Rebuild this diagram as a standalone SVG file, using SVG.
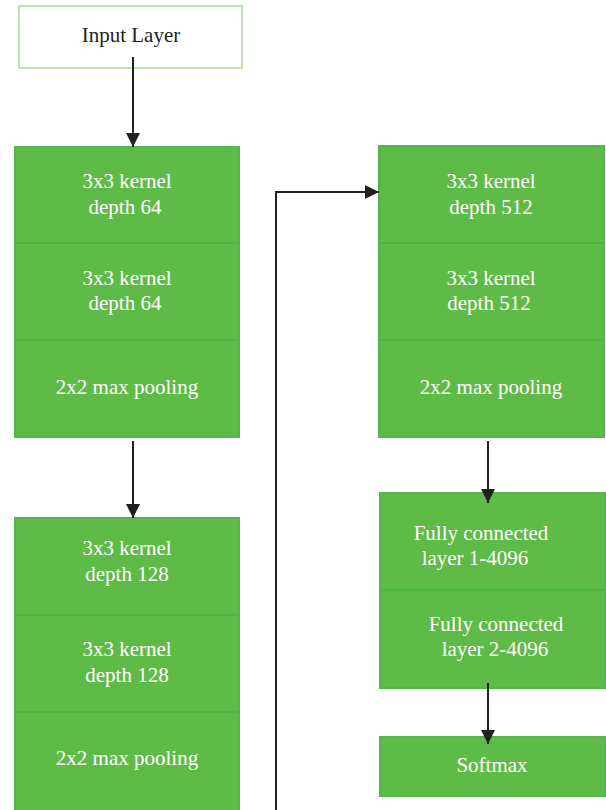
<svg xmlns="http://www.w3.org/2000/svg" width="606" height="810" viewBox="0 0 606 810">
<style>
.box{fill:#5fbb48;stroke:#52b74a;stroke-width:2}
.div{stroke:#4cb548;stroke-width:2}
.in{fill:#fff;stroke:#a6d996;stroke-width:1.5}
text{font-family:"Liberation Serif","Times New Roman",serif;font-size:21px;text-anchor:middle}
.w{fill:#fff}
.k{fill:#231f20}
.c{stroke:#231f20;stroke-width:2;fill:none}
</style>
<defs>
<marker id="a" viewBox="0 0 14 14" refX="14" refY="7" markerWidth="14" markerHeight="14" orient="auto" markerUnits="userSpaceOnUse">
<path d="M0,0 L14,7 L0,14 z" fill="#231f20"/>
</marker>
</defs>
<g id="input">
<rect class="in" x="19" y="6" width="223" height="62"/>
<text class="k" x="131" y="42">Input Layer</text>
</g>
<g id="block1">
<rect class="box" x="15" y="147" width="224" height="290"/>
<line class="div" x1="15" y1="243" x2="239" y2="243"/>
<line class="div" x1="15" y1="340" x2="239" y2="340"/>
<text class="w" x="127" y="188">3x3 kernel</text>
<text class="w" x="125" y="214">depth 64</text>
<text class="w" x="127" y="285">3x3 kernel</text>
<text class="w" x="125" y="310">depth 64</text>
<text class="w" x="127" y="394">2x2 max pooling</text>
</g>
<g id="block2">
<rect class="box" x="15" y="518" width="224" height="300"/>
<line class="div" x1="15" y1="615" x2="239" y2="615"/>
<line class="div" x1="15" y1="712" x2="239" y2="712"/>
<text class="w" x="127" y="555">3x3 kernel</text>
<text class="w" x="127" y="581">depth 128</text>
<text class="w" x="127" y="656">3x3 kernel</text>
<text class="w" x="127" y="682">depth 128</text>
<text class="w" x="127" y="765">2x2 max pooling</text>
</g>
<g id="block5">
<rect class="box" x="379" y="146" width="225" height="291"/>
<line class="div" x1="379" y1="243" x2="604" y2="243"/>
<line class="div" x1="379" y1="340" x2="604" y2="340"/>
<text class="w" x="491" y="188">3x3 kernel</text>
<text class="w" x="491" y="214">depth 512</text>
<text class="w" x="491" y="285">3x3 kernel</text>
<text class="w" x="489" y="310">depth 512</text>
<text class="w" x="491" y="394">2x2 max pooling</text>
</g>
<g id="fc">
<rect class="box" x="380" y="493" width="225" height="195"/>
<line class="div" x1="380" y1="590" x2="605" y2="590"/>
<text class="w" x="481" y="540">Fully connected</text>
<text class="w" x="475" y="565">layer 1-4096</text>
<text class="w" x="496" y="631">Fully connected</text>
<text class="w" x="495" y="656">layer 2-4096</text>
</g>
<g id="softmax">
<rect class="box" x="380" y="737" width="225" height="59"/>
<text class="w" x="492" y="772">Softmax</text>
</g>
<g id="connectors">
<line class="c" x1="133" y1="57" x2="133" y2="147" marker-end="url(#a)"/>
<line class="c" x1="133" y1="441" x2="133" y2="518" marker-end="url(#a)"/>
<polyline class="c" points="276,810 276,192 379,192" marker-end="url(#a)"/>
<line class="c" x1="488" y1="441" x2="488" y2="503" marker-end="url(#a)"/>
<line class="c" x1="488" y1="683" x2="488" y2="744" marker-end="url(#a)"/>
</g>
</svg>
